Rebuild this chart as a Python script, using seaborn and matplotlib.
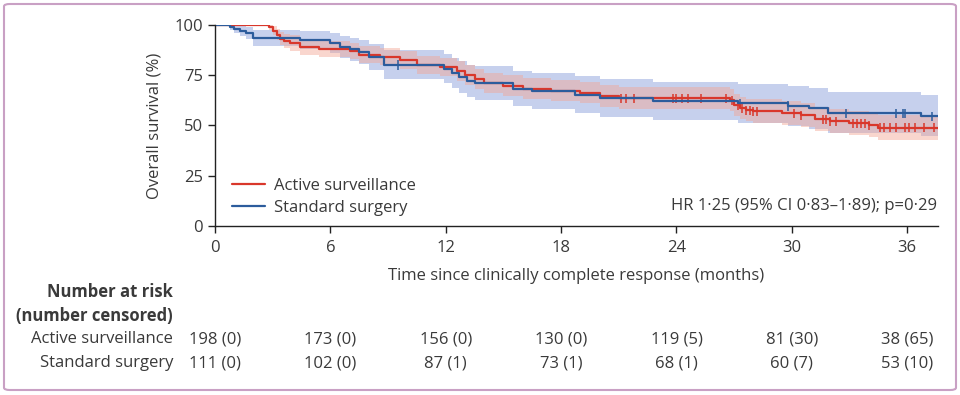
import numpy as np
import pandas as pd
import matplotlib
matplotlib.use('Agg')
import matplotlib.pyplot as plt
from matplotlib.patches import FancyBboxPatch
import seaborn as sns

# Kaplan-Meier steps (months, % surviving)
as_time = [0, 2.8, 3.0, 3.2, 3.4, 3.6, 3.9, 4.4, 5.4, 7.0, 7.5, 8.6, 9.6, 10.5, 11.7,
           12.6, 13.0, 13.5, 14.0, 15.0, 16.0, 17.5, 19.0, 20.0, 21.0, 26.8, 27.0,
           27.3, 27.6, 28.0, 29.5, 30.5, 31.2, 32.0, 33.0, 34.0, 34.5, 37.6]
as_surv = [100, 99, 97, 95, 93, 92, 91, 89, 88, 87, 85, 84, 82.5, 80, 79,
           77, 75, 73, 71, 69.5, 68, 67, 66, 64.5, 63.5, 62.5, 60,
           58.5, 57.5, 57, 56, 55, 53, 52, 51, 50, 48.8, 48.8]
as_lo = [100, 97.5, 95, 92.5, 90, 88.5, 87, 85, 84, 83, 81, 80, 78, 75.5, 74.5,
         72, 70, 68, 66, 64.5, 63, 62, 61, 59, 58, 57, 54.5,
         53, 52, 51, 50, 49, 47, 46, 45, 44, 42.5, 42.5]
as_hi = [100, 100, 99.5, 98, 96.5, 95.5, 95, 93, 92, 91, 89.5, 88.5, 87, 84.5, 83.5,
         82, 80, 78, 76, 75, 73.5, 72.5, 71.5, 70, 69, 68, 65.5,
         64, 63, 63, 62, 61, 59, 58, 57, 56, 55, 55]

ss_time = [0, 0.8, 1.0, 1.3, 1.6, 2.0, 4.4, 6.0, 6.5, 7.0, 7.5, 8.0, 8.8, 11.9,
           12.3, 12.7, 13.1, 13.5, 15.5, 16.5, 18.7, 20.0, 22.8, 27.2, 29.8,
           30.9, 31.9, 36.7, 37.6]
ss_surv = [100, 99, 98, 97, 96, 93.5, 92.5, 91, 89, 88, 86.5, 84, 80, 78,
           76, 74, 72, 71, 68, 67, 65, 63.5, 62, 61, 59.7,
           58.5, 56, 54.5, 54.5]
ss_lo = [100, 97.5, 96, 94.5, 93, 89.5, 88, 86, 83.5, 82, 80.5, 77.5, 73, 71,
         68.5, 66, 64, 62.5, 59.5, 58, 56, 54, 52.5, 51, 49.5,
         48, 46, 44.5, 44.5]
ss_hi = [100, 100, 100, 99.5, 99, 97.5, 97, 96, 94.5, 93.5, 92.5, 90.5, 87.5, 85.5,
         83.5, 82, 80, 79.5, 77, 76, 74.5, 73, 71.5, 70.5, 69.5,
         68.5, 66.5, 65, 65]

# censoring ticks (months)
as_cens = [21.1, 21.4, 21.8, 23.8, 24.0, 24.3, 24.6, 25.3, 26.6, 26.9, 27.2, 27.4,
           27.6, 27.8, 28.0, 28.2, 30.1, 30.5, 31.6, 31.8, 32.0, 32.3, 33.2, 33.4,
           33.6, 33.8, 34.0, 34.6, 34.8, 35.1, 35.4, 35.9, 36.1, 36.4, 36.9, 37.4]
ss_cens = [9.5, 27.3, 29.8, 32.8, 35.4, 35.8, 35.9, 37.3]

ticks = [0, 6, 12, 18, 24, 30, 36]
as_risk = ['198 (0)', '173 (0)', '156 (0)', '130 (0)', '119 (5)', '81 (30)', '38 (65)']
ss_risk = ['111 (0)', '102 (0)', '87 (1)', '73 (1)', '68 (1)', '60 (7)', '53 (10)']

RED = '#d9372b'
BLUE = '#2c5c9c'
TXT = '#3a3a3a'
FS = 12

sns.set_style('ticks')
plt.rcParams['font.family'] = ['Open Sans', 'DejaVu Sans']

fig = plt.figure(figsize=(9.6, 3.95), dpi=100)
ax = fig.add_axes([0.224, 0.428, 0.753, 0.509])


def step_at(times, surv, t):
    idx = np.searchsorted(times, t, side='right') - 1
    return surv[idx]


ax.fill_between(ss_time, ss_lo, ss_hi, step='post', color='#8ea2dc', alpha=0.5, lw=0)
ax.fill_between(as_time, as_lo, as_hi, step='post', color='#f3a594', alpha=0.45, lw=0)

df = pd.concat([
    pd.DataFrame({'t': as_time, 's': as_surv, 'arm': 'Active surveillance'}),
    pd.DataFrame({'t': ss_time, 's': ss_surv, 'arm': 'Standard surgery'}),
])
sns.lineplot(data=df, x='t', y='s', hue='arm', palette=[RED, BLUE], estimator=None,
             drawstyle='steps-post', lw=1.6, ax=ax)

cens = pd.concat([
    pd.DataFrame({'t': as_cens, 's': [step_at(as_time, as_surv, t) for t in as_cens],
                  'arm': 'Active surveillance'}),
    pd.DataFrame({'t': ss_cens, 's': [step_at(ss_time, ss_surv, t) for t in ss_cens],
                  'arm': 'Standard surgery'}),
])
sns.scatterplot(data=cens, x='t', y='s', hue='arm', palette=[RED, BLUE], marker='|',
                s=45, linewidth=1.1, legend=False, ax=ax)

ax.set_xlim(0, 37.6)
ax.set_ylim(0, 100)
ax.set_xticks(ticks)
ax.set_yticks([0, 25, 50, 75, 100])
sns.despine(ax=ax)
for sp in ['left', 'bottom']:
    ax.spines[sp].set_color('#222222')
    ax.spines[sp].set_linewidth(1.0)
ax.tick_params(colors='#222222', labelcolor=TXT, labelsize=FS, length=5, width=1.0)
ax.tick_params(axis='x', pad=5)
ax.set_xlabel('Time since clinically complete response (months)', fontsize=FS,
              color=TXT, labelpad=9)
ax.set_ylabel('Overall survival (%)', fontsize=FS, color=TXT, labelpad=9)

leg = ax.legend(loc='lower left', bbox_to_anchor=(0.0, -0.035), frameon=False,
                fontsize=FS, handlelength=2.0, handletextpad=0.55, labelspacing=0.4,
                borderaxespad=0.6)
for t in leg.get_texts():
    t.set_color(TXT)

ax.text(0.999, 0.1, 'HR 1·25 (95% CI 0·83–1·89); p=0·29', transform=ax.transAxes,
        ha='right', va='center', fontsize=FS, color=TXT)

# number at risk table
trans = ax.get_xaxis_transform()
fig.text(173 / 960, 1 - 292 / 395, 'Number at risk', ha='right', va='center',
         fontsize=FS, fontweight='bold', color=TXT)
fig.text(173 / 960, 1 - 316 / 395, '(number censored)', ha='right', va='center',
         fontsize=FS, fontweight='bold', color=TXT)
fig.text(173 / 960, 1 - 339 / 395, 'Active surveillance', ha='right', va='center',
         fontsize=FS, color=TXT)
fig.text(173 / 960, 1 - 363 / 395, 'Standard surgery', ha='right', va='center',
         fontsize=FS, color=TXT)
y_as = (1 - 339 / 395 - 0.428) / 0.509
y_ss = (1 - 363 / 395 - 0.428) / 0.509
for x, a, s in zip(ticks, as_risk, ss_risk):
    ax.text(x, y_as, a, transform=trans, ha='center', va='center', fontsize=FS,
            color=TXT, clip_on=False)
    ax.text(x, y_ss, s, transform=trans, ha='center', va='center', fontsize=FS,
            color=TXT, clip_on=False)

frame = FancyBboxPatch((4 / 960, 5 / 395), 952 / 960, 386 / 395,
                       boxstyle='round,pad=0,rounding_size=0.006',
                       transform=fig.transFigure, fill=False, ec='#c9a0c4', lw=1.5)
fig.patches.append(frame)

fig.savefig('out.png', dpi=100)
